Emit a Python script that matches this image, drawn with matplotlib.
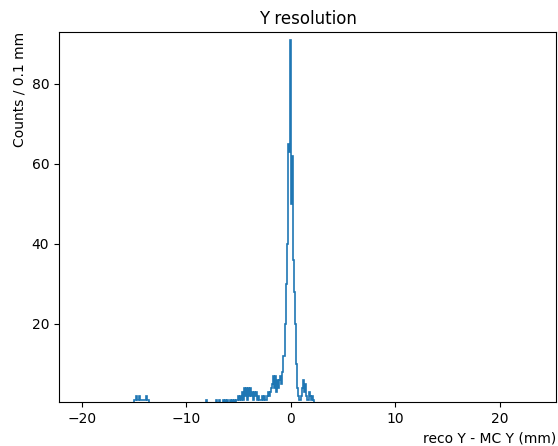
import matplotlib
matplotlib.use('Agg')
import matplotlib.pyplot as plt
import numpy as np

# bin centres (mm) and counts, 0.1 mm bins; empty bins omitted
centres = [-14.95, -14.85, -14.75, -14.65, -14.55, -14.45, -14.35, -14.25, -14.15, -14.05,
           -13.95, -13.85, -13.75, -13.65,
           -8.05, -7.15, -6.85, -6.45, -6.25, -6.05, -5.75, -5.55, -5.35, -5.15,
           -5.05, -4.95, -4.85, -4.75, -4.65, -4.55, -4.45, -4.35, -4.25, -4.15,
           -4.05, -3.95, -3.85, -3.75, -3.65, -3.55, -3.45, -3.35, -3.25, -3.15,
           -3.05, -2.95, -2.85, -2.75, -2.65, -2.55, -2.45, -2.35, -2.25, -2.15,
           -2.05, -1.95, -1.85, -1.75, -1.65, -1.55, -1.45, -1.35, -1.25, -1.15,
           -1.05, -0.95, -0.85, -0.75, -0.65, -0.55, -0.45, -0.35, -0.25, -0.15,
           -0.05, 0.05, 0.15, 0.25, 0.35, 0.45, 0.55, 0.65, 0.75, 0.85,
           0.95, 1.05, 1.15, 1.25, 1.35, 1.45, 1.55, 1.65, 1.75, 1.85,
           1.95, 2.05, 2.15]
counts = [1, 1, 2, 1, 1, 2, 1, 1, 1, 1,
          1, 2, 1, 1,
          1, 1, 1, 1, 1, 1, 1, 1, 1, 1,
          2, 1, 2, 1, 3, 1, 4, 2, 4, 1,
          4, 2, 4, 2, 3, 1, 3, 2, 3, 1,
          2, 1, 1, 2, 1, 2, 1, 1, 2, 3,
          2, 3, 4, 5, 7, 4, 7, 3, 6, 4,
          6, 7, 5, 8, 12, 20, 30, 40, 65, 63,
          91, 50, 62, 36, 28, 20, 10, 4, 2, 1,
          1, 2, 4, 6, 3, 5, 2, 1, 3, 2,
          1, 2, 1]

bins = np.arange(-250, 251) / 10.0

fig = plt.figure(figsize=(5.58, 4.46), dpi=100)
ax = fig.add_axes([0.1057, 0.0987, 0.8907, 0.8296])
ax.hist(centres, bins=bins, weights=counts, histtype='step', linewidth=1.2)
ax.set_xlim(-22.2, 25.4)
ax.set_ylim(0.5, 93)
ax.set_title('Y resolution')
ax.set_xlabel('reco Y - MC Y (mm)', loc='right')
ax.set_ylabel('Counts / 0.1 mm', loc='top')
fig.savefig('out.png', dpi=100)
